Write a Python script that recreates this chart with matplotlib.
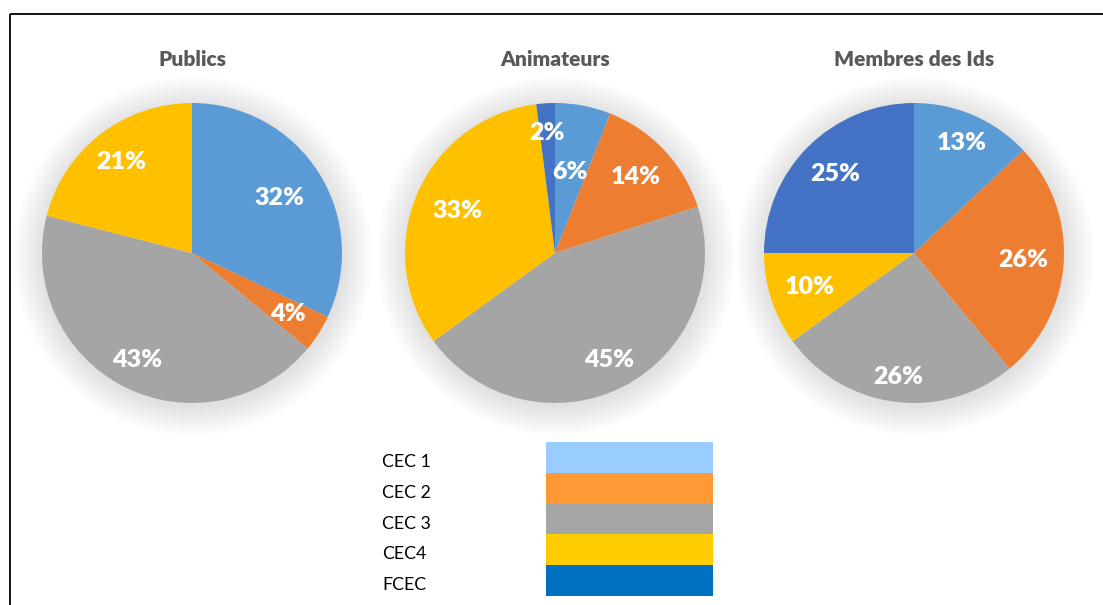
import matplotlib
matplotlib.use("Agg")
import matplotlib.pyplot as plt
from matplotlib.patches import Rectangle, Circle
import numpy as np

# ---- data ----
titles = ["Publics", "Animateurs", "Membres des Ids"]
categories = ["CEC 1", "CEC 2", "CEC 3", "CEC4", "FCEC"]
publics = [32, 4, 43, 21, 0]
animateurs = [6, 14, 45, 33, 2]
membres = [13, 26, 26, 10, 25]
series = [publics, animateurs, membres]

# ---- styles ----
pie_colors = ["#5B9BD5", "#ED7D31", "#A5A5A5", "#FFC000", "#4472C4"]
legend_colors = ["#99CCFF", "#FF9933", "#A6A6A6", "#FFCC00", "#0070C0"]
label_radius = [
    [0.69, 0.76, 0.80, 0.77, 0.8],
    [0.55, 0.74, 0.80, 0.71, 0.80],
    [0.80, 0.73, 0.83, 0.73, 0.745],
]
centers_px = [(192, 253), (555, 253), (914, 253)]
R = 150
W, H = 1103, 605

plt.rcParams['font.family'] = ['Lato', 'DejaVu Sans']

fig = plt.figure(figsize=(W / 100, H / 100), dpi=100)
ax = fig.add_axes([0, 0, 1, 1])

def Y(y):
    return H - y

for k, (vals, title) in enumerate(zip(series, titles)):
    cx, cy = centers_px[k]
    # soft shadow
    for i in range(30):
        ax.add_patch(Circle((cx + 1, Y(cy) - 3), R + 30 - i, color="black",
                            alpha=0.0028, lw=0, zorder=1))
    wedges, _ = ax.pie(vals, colors=pie_colors, startangle=90, counterclock=False,
                       center=(cx, Y(cy)), radius=R, frame=False,
                       wedgeprops=dict(linewidth=0, zorder=2))
    for j, (w, v) in enumerate(zip(wedges, vals)):
        if v == 0:
            continue
        ang = np.deg2rad((w.theta1 + w.theta2) / 2)
        r = label_radius[k][j] * R
        ax.text(cx + r * np.cos(ang), Y(cy) + r * np.sin(ang), f"{v}%",
                ha="center", va="center", color="white", fontsize=18,
                fontweight=800, zorder=5)
    ax.text(cx, Y(59), title, ha="center", va="center", color="#595959",
            fontsize=15, fontweight=800, zorder=5)

# legend table
row_top = 442
row_h = 30.8
for i, (cat, col) in enumerate(zip(categories, legend_colors)):
    y0 = row_top + i * row_h
    ax.add_patch(Rectangle((546, Y(y0 + row_h)), 167, row_h, color=col, lw=0, zorder=3))
    ax.text(382, Y(y0 + 20), cat, ha="left", va="center",
            color="black", fontsize=12.8, zorder=5)

# border
ax.plot([10, W + 5], [Y(14), Y(14)], color="black", lw=1.3, zorder=6, solid_capstyle="butt")
ax.plot([10, 10], [Y(14), -5], color="black", lw=1.3, zorder=6, solid_capstyle="butt")

ax.set_xlim(0, W)
ax.set_ylim(0, H)
ax.set_aspect("auto")
ax.axis("off")

fig.savefig("out.png", dpi=100)
